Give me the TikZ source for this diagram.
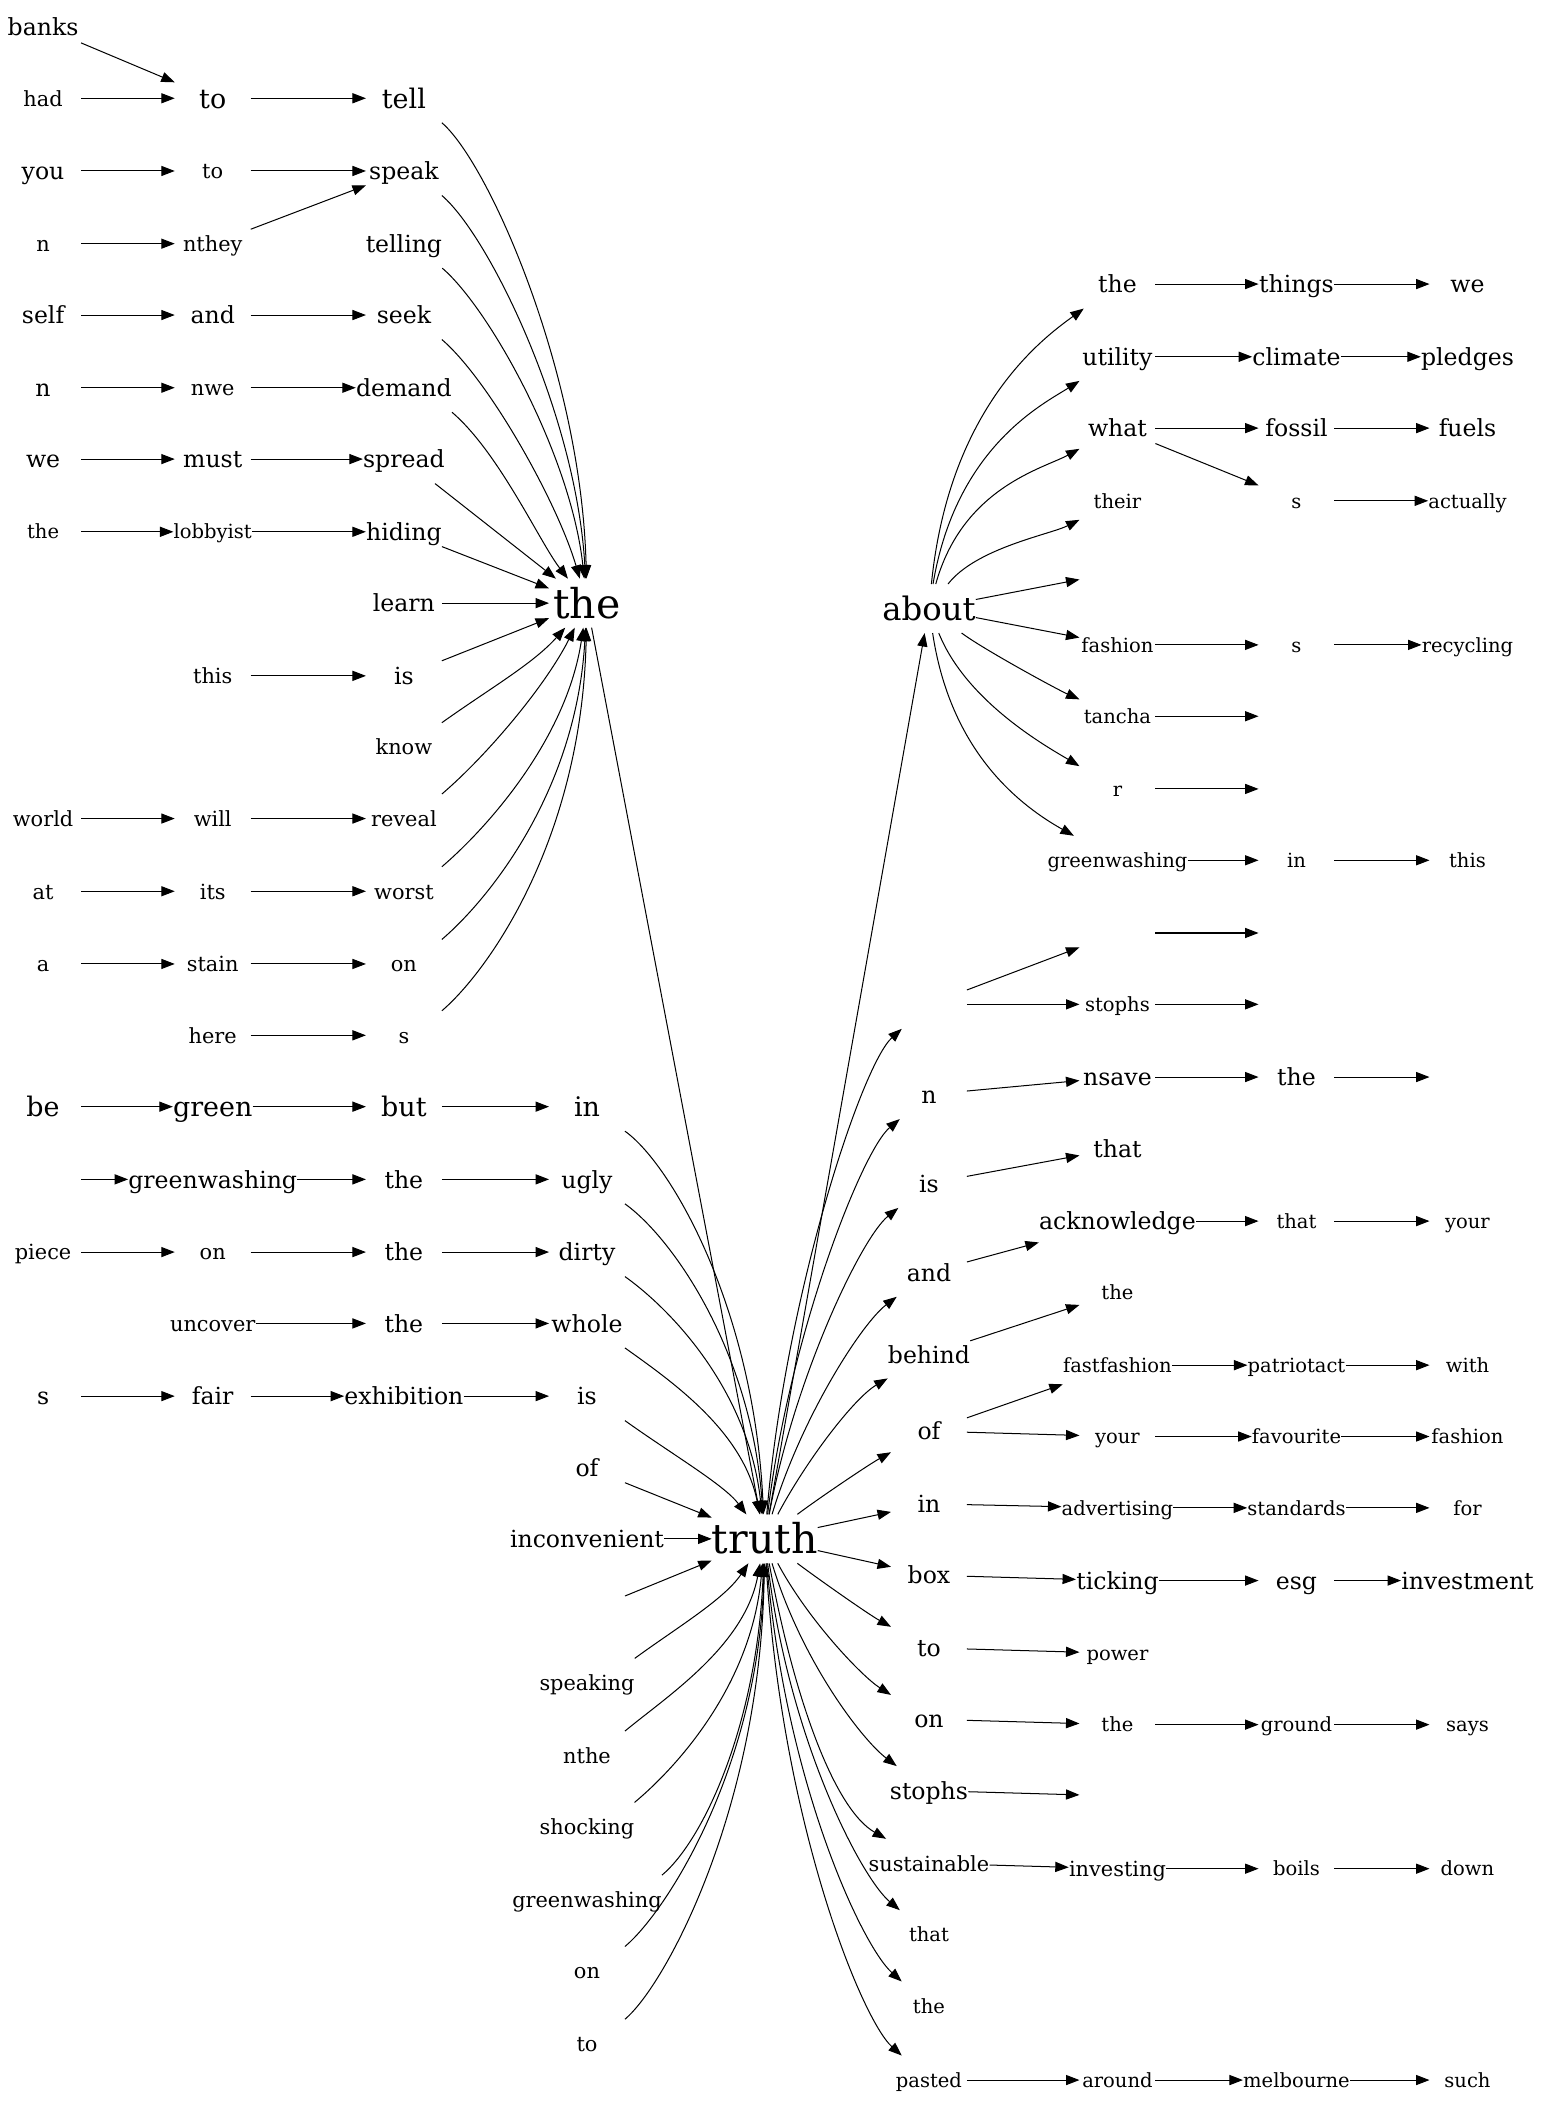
\documentclass[tikz,border=0pt]{standalone}
\usepackage{fontspec}
\setmainfont{DejaVu Serif}
\usetikzlibrary{arrows.meta}

\begin{document}
\begin{tikzpicture}[
  x=1pt, y=-1pt,
  word/.style={inner sep=0pt, minimum width=56pt, minimum height=36pt},
  xs/.style={word, font=\fontsize{14.5}{17}\selectfont, text height=12.3pt, text depth=1.6pt},
  sm/.style={word, font=\fontsize{15.5}{18}\selectfont, text height=13.2pt, text depth=1.7pt},
  md/.style={word, font=\fontsize{17.5}{20}\selectfont, text height=14.9pt, text depth=1.9pt},
  lg/.style={word, font=\fontsize{20}{23}\selectfont, text height=17pt, text depth=2.2pt},
  mid/.style={word, font=\fontsize{24}{28}\selectfont, text height=20.4pt, text depth=2.6pt},
  hub/.style={word, font=\fontsize{30.5}{34}\selectfont, text height=25.9pt, text depth=3.4pt},
  link/.style={-{Triangle[length=10pt,width=7.5pt]}, line width=0.75pt}
]
\path[use as bounding box, fill=white] (0,0) rectangle (1146,1568);

% HUBS
\node[hub] (the) at (436,448) {the};
\node[hub] (truth) at (568,1143) {truth};
\node[mid] (about) at (690,452) {about};

% INTO THE
\node[md] (banks) at (32,20) {banks};
\node[sm] (had) at (32,73) {had};
\node[lg] (toTell) at (158,73) {to};
\node[lg] (tell) at (300,73) {tell};
\node[md] (you) at (32,127) {you};
\node[sm] (toSpeak) at (158,127) {to};
\node[md] (speak) at (300,127) {speak};
\node[sm] (nThey) at (32,181) {n};
\node[sm] (nthey) at (158,181) {nthey};
\node[md] (telling) at (300,181) {telling};
\node[md] (self) at (32,234) {self};
\node[md] (andSeek) at (158,234) {and};
\node[md] (seek) at (300,234) {seek};
\node[md] (nWe) at (32,288) {n};
\node[sm] (nwe) at (158,288) {nwe};
\node[md] (demand) at (300,288) {demand};
\node[md] (weMust) at (32,341) {we};
\node[md] (must) at (158,341) {must};
\node[md] (spread) at (300,341) {spread};
\node[xs] (theLobby) at (32,395) {the};
\node[xs] (lobbyist) at (158,395) {lobbyist};
\node[md] (hiding) at (300,395) {hiding};
\node[md] (learn) at (300,448) {learn};
\node[sm] (this) at (158,502) {this};
\node[md] (isThe) at (300,502) {is};
\node[sm] (know) at (300,555) {know};
\node[sm] (world) at (32,608) {world};
\node[sm] (will) at (158,608) {will};
\node[sm] (reveal) at (300,608) {reveal};
\node[sm] (atIts) at (32,662) {at};
\node[sm] (its) at (158,662) {its};
\node[sm] (worst) at (300,662) {worst};
\node[sm] (aStain) at (32,716) {a};
\node[sm] (stain) at (158,716) {stain};
\node[sm] (onThe) at (300,716) {on};
\node[sm] (here) at (158,769) {here};
\node[sm] (sThe) at (300,769) {s};

\draw[link] (banks) -- (toTell);
\draw[link] (had) -- (toTell);   \draw[link] (toTell) -- (tell);
\draw[link] (you) -- (toSpeak);  \draw[link] (toSpeak) -- (speak);
\draw[link] (nThey) -- (nthey);  \draw[link] (nthey) -- (speak);
\draw[link] (self) -- (andSeek); \draw[link] (andSeek) -- (seek);
\draw[link] (nWe) -- (nwe);      \draw[link] (nwe) -- (demand);
\draw[link] (weMust) -- (must);  \draw[link] (must) -- (spread);
\draw[link] (theLobby) -- (lobbyist); \draw[link] (lobbyist) -- (hiding);
\draw[link] (this) -- (isThe);
\draw[link] (world) -- (will);   \draw[link] (will) -- (reveal);
\draw[link] (atIts) -- (its);    \draw[link] (its) -- (worst);
\draw[link] (aStain) -- (stain); \draw[link] (stain) -- (onThe);
\draw[link] (here) -- (sThe);

\draw[link] (tell.south east) .. controls +(35,30) and +(-4,-170) .. (the);
\draw[link] (speak.south east) .. controls +(35,30) and +(-8,-140) .. (the);
\draw[link] (telling.south east) .. controls +(35,30) and +(-12,-110) .. (the);
\draw[link] (seek.south east) .. controls +(35,30) and +(-22,-75) .. (the);
\draw[link] (demand.south east) .. controls +(35,30) and +(-35,-45) .. (the);
\draw[link] (spread) -- (the);
\draw[link] (hiding) -- (the);
\draw[link] (learn) -- (the);
\draw[link] (isThe) -- (the);
\draw[link] (know.north east) .. controls +(35,-25) and +(-40,45) .. (the);
\draw[link] (reveal.north east) .. controls +(35,-30) and +(-30,60) .. (the);
\draw[link] (worst.north east) .. controls +(35,-30) and +(-15,100) .. (the);
\draw[link] (onThe.north east) .. controls +(35,-30) and +(-8,140) .. (the);
\draw[link] (sThe.north east) .. controls +(35,-30) and +(-4,175) .. (the);

\draw[link] (the) -- (truth);

% INTO TRUTH
\node[lg] (be) at (32,822) {be};
\node[lg] (green) at (158,822) {green};
\node[lg] (but) at (300,822) {but};
\node[lg] (inTruth) at (436,822) {in};
\node[md] (blankA) at (32,876) {};
\node[md] (gwUgly) at (158,876) {greenwashing};
\node[md] (theUgly) at (300,876) {the};
\node[md] (ugly) at (436,876) {ugly};
\node[sm] (piece) at (32,930) {piece};
\node[sm] (onDirty) at (158,930) {on};
\node[md] (theDirty) at (300,930) {the};
\node[md] (dirty) at (436,930) {dirty};
\node[sm] (uncover) at (158,983) {uncover};
\node[md] (theWhole) at (300,983) {the};
\node[md] (whole) at (436,983) {whole};
\node[md] (sFair) at (32,1037) {s};
\node[md] (fair) at (158,1037) {fair};
\node[md] (exhibition) at (300,1037) {exhibition};
\node[md] (isTruth) at (436,1037) {is};
\node[md] (ofTruth) at (436,1090) {of};
\node[md] (inconvenient) at (436,1143) {inconvenient};
\node[md] (blankB) at (436,1197) {};
\node[sm] (speaking) at (436,1250) {speaking};
\node[sm] (nthe) at (436,1304) {nthe};
\node[sm] (shocking) at (436,1357) {shocking};
\node[sm] (gwTruth) at (436,1411) {greenwashing};
\node[sm] (onTruth) at (436,1464) {on};
\node[sm] (toTruth) at (436,1518) {to};

\draw[link] (be) -- (green);  \draw[link] (green) -- (but);  \draw[link] (but) -- (inTruth);
\draw[link] (blankA) -- (gwUgly); \draw[link] (gwUgly) -- (theUgly); \draw[link] (theUgly) -- (ugly);
\draw[link] (piece) -- (onDirty); \draw[link] (onDirty) -- (theDirty); \draw[link] (theDirty) -- (dirty);
\draw[link] (uncover) -- (theWhole); \draw[link] (theWhole) -- (whole);
\draw[link] (sFair) -- (fair); \draw[link] (fair) -- (exhibition); \draw[link] (exhibition) -- (isTruth);

\draw[link] (inTruth.south east) .. controls +(35,25) and +(-8,-170) .. (truth);
\draw[link] (ugly.south east) .. controls +(35,25) and +(-10,-140) .. (truth);
\draw[link] (dirty.south east) .. controls +(35,25) and +(-12,-110) .. (truth);
\draw[link] (whole.south east) .. controls +(35,25) and +(-16,-80) .. (truth);
\draw[link] (isTruth.south east) .. controls +(35,25) and +(-30,-40) .. (truth);
\draw[link] (ofTruth) -- (truth);
\draw[link] (inconvenient) -- (truth);
\draw[link] (blankB) -- (truth);
\draw[link] (speaking.north east) .. controls +(30,-22) and +(-30,45) .. (truth);
\draw[link] (nthe.north east) .. controls +(30,-25) and +(-15,80) .. (truth);
\draw[link] (shocking.north east) .. controls +(30,-25) and +(-10,110) .. (truth);
\draw[link] (gwTruth.north east) .. controls +(30,-25) and +(-6,140) .. (truth);
\draw[link] (onTruth.north east) .. controls +(30,-25) and +(-4,170) .. (truth);
\draw[link] (toTruth.north east) .. controls +(30,-25) and +(-3,200) .. (truth);

% OUT OF ABOUT
\node[md] (theThings) at (830,211) {the};
\node[md] (things) at (963,211) {things};
\node[md] (weThings) at (1090,211) {we};
\node[md] (utility) at (830,265) {utility};
\node[md] (climate) at (963,265) {climate};
\node[md] (pledges) at (1090,265) {pledges};
\node[md] (what) at (830,318) {what};
\node[md] (fossil) at (963,318) {fossil};
\node[md] (fuels) at (1090,318) {fuels};
\node[xs] (their) at (830,372) {their};
\node[xs] (sActually) at (963,372) {s};
\node[xs] (actually) at (1090,372) {actually};
\node[xs] (blankC) at (830,425) {};
\node[xs] (fashionS) at (830,479) {fashion};
\node[xs] (sRecycling) at (963,479) {s};
\node[xs] (recycling) at (1090,479) {recycling};
\node[xs] (tancha) at (830,532) {tancha};
\node[xs] (blankD) at (963,532) {};
\node[xs] (rBlank) at (830,586) {r};
\node[xs] (blankE) at (963,586) {};
\node[xs] (gwIn) at (830,639) {greenwashing};
\node[xs] (inThis) at (963,639) {in};
\node[xs] (thisEnd) at (1090,639) {this};

\draw[link] (about) .. controls +(15,-150) and +(-55,40) .. (theThings);
\draw[link] (about) .. controls +(20,-120) and +(-55,35) .. (utility);
\draw[link] (about) .. controls +(25,-90) and +(-55,30) .. (what);
\draw[link] (about) .. controls +(35,-45) and +(-50,25) .. (their);
\draw[link] (about) -- (blankC);
\draw[link] (about) -- (fashionS);
\draw[link] (about) .. controls +(40,30) and +(-45,-20) .. (tancha);
\draw[link] (about) .. controls +(28,70) and +(-50,-30) .. (rBlank);
\draw[link] (about) .. controls +(15,100) and +(-80,-45) .. (gwIn);

\draw[link] (theThings) -- (things); \draw[link] (things) -- (weThings);
\draw[link] (utility) -- (climate);  \draw[link] (climate) -- (pledges);
\draw[link] (what) -- (fossil);      \draw[link] (fossil) -- (fuels);
\draw[link] (what) -- (sActually);   \draw[link] (sActually) -- (actually);
\draw[link] (fashionS) -- (sRecycling); \draw[link] (sRecycling) -- (recycling);
\draw[link] (tancha) -- (blankD);
\draw[link] (rBlank) -- (blankE);
\draw[link] (gwIn) -- (inThis);      \draw[link] (inThis) -- (thisEnd);

% OUT OF TRUTH
\node[xs] (blankF) at (690,746) {};
\node[xs] (blankG) at (830,693) {};
\node[xs] (blankH) at (963,693) {};
\node[xs] (stophsA) at (830,746) {stophs};
\node[xs] (blankI) at (963,746) {};
\node[md] (nSave) at (690,813) {n};
\node[md] (nsave) at (830,800) {nsave};
\node[md] (theSave) at (963,800) {the};
\node[md] (blankJ) at (1090,800) {};
\node[md] (isThat) at (690,879) {is};
\node[md] (thatIs) at (830,853) {that};
\node[md] (andAck) at (690,945) {and};
\node[md] (acknowledge) at (830,907) {acknowledge};
\node[xs] (thatYour) at (963,907) {that};
\node[xs] (yourEnd) at (1090,907) {your};
\node[md] (behind) at (690,1006) {behind};
\node[xs] (theBehind) at (830,960) {the};
\node[md] (ofFast) at (690,1063) {of};
\node[xs] (fastfashion) at (830,1014) {fastfashion};
\node[xs] (patriotact) at (963,1014) {patriotact};
\node[xs] (with) at (1090,1014) {with};
\node[xs] (yourFav) at (830,1067) {your};
\node[xs] (favourite) at (963,1067) {favourite};
\node[xs] (fashionEnd) at (1090,1067) {fashion};
\node[md] (inAdv) at (690,1117) {in};
\node[xs] (advertising) at (830,1120) {advertising};
\node[xs] (standards) at (963,1120) {standards};
\node[xs] (forEnd) at (1090,1120) {for};
\node[md] (box) at (690,1170) {box};
\node[md] (ticking) at (830,1174) {ticking};
\node[md] (esg) at (963,1174) {esg};
\node[md] (investment) at (1090,1174) {investment};
\node[md] (toPower) at (690,1224) {to};
\node[xs] (power) at (830,1228) {power};
\node[md] (onGround) at (690,1277) {on};
\node[xs] (theGround) at (830,1281) {the};
\node[xs] (ground) at (963,1281) {ground};
\node[xs] (says) at (1090,1281) {says};
\node[md] (stophsB) at (690,1330) {stophs};
\node[xs] (blankK) at (830,1334) {};
\node[sm] (sustainable) at (690,1384) {sustainable};
\node[sm] (investing) at (830,1388) {investing};
\node[xs] (boils) at (963,1388) {boils};
\node[xs] (down) at (1090,1388) {down};
\node[xs] (thatEnd) at (690,1437) {that};
\node[xs] (theEnd) at (690,1490) {the};
\node[xs] (pasted) at (690,1545) {pasted};
\node[xs] (around) at (830,1545) {around};
\node[xs] (melbourne) at (963,1545) {melbourne};
\node[xs] (such) at (1090,1545) {such};

\draw[link] (truth) -- (about);
\draw[link] (truth) .. controls +(15,-180) and +(-50,45) .. (blankF);
\draw[link] (truth) .. controls +(18,-150) and +(-50,42) .. (nSave);
\draw[link] (truth) .. controls +(22,-120) and +(-50,40) .. (isThat);
\draw[link] (truth) .. controls +(27,-90) and +(-50,38) .. (andAck);
\draw[link] (truth) .. controls +(32,-60) and +(-55,32) .. (behind);
\draw[link] (truth) .. controls +(40,-30) and +(-45,25) .. (ofFast);
\draw[link] (truth) -- (inAdv);
\draw[link] (truth) -- (box);
\draw[link] (truth) .. controls +(40,30) and +(-45,-25) .. (toPower);
\draw[link] (truth) .. controls +(32,60) and +(-50,-32) .. (onGround);
\draw[link] (truth) .. controls +(27,90) and +(-50,-38) .. (stophsB);
\draw[link] (truth) .. controls +(22,120) and +(-70,-40) .. (sustainable);
\draw[link] (truth) .. controls +(18,150) and +(-50,-42) .. (thatEnd);
\draw[link] (truth) .. controls +(15,180) and +(-50,-45) .. (theEnd);
\draw[link] (truth) .. controls +(12,210) and +(-50,-45) .. (pasted);

\draw[link] (blankF) -- (blankG);    \draw[link] (blankG) -- (blankH);
\draw[link] (blankF) -- (stophsA);   \draw[link] (stophsA) -- (blankI);
\draw[link] (nSave) -- (nsave);      \draw[link] (nsave) -- (theSave);  \draw[link] (theSave) -- (blankJ);
\draw[link] (isThat) -- (thatIs);
\draw[link] (andAck) -- (acknowledge); \draw[link] (acknowledge) -- (thatYour); \draw[link] (thatYour) -- (yourEnd);
\draw[link] (behind) -- (theBehind);
\draw[link] (ofFast) -- (fastfashion); \draw[link] (fastfashion) -- (patriotact); \draw[link] (patriotact) -- (with);
\draw[link] (ofFast) -- (yourFav);   \draw[link] (yourFav) -- (favourite); \draw[link] (favourite) -- (fashionEnd);
\draw[link] (inAdv) -- (advertising); \draw[link] (advertising) -- (standards); \draw[link] (standards) -- (forEnd);
\draw[link] (box) -- (ticking);      \draw[link] (ticking) -- (esg);   \draw[link] (esg) -- (investment);
\draw[link] (toPower) -- (power);
\draw[link] (onGround) -- (theGround); \draw[link] (theGround) -- (ground); \draw[link] (ground) -- (says);
\draw[link] (stophsB) -- (blankK);
\draw[link] (sustainable) -- (investing); \draw[link] (investing) -- (boils); \draw[link] (boils) -- (down);
\draw[link] (pasted) -- (around);    \draw[link] (around) -- (melbourne); \draw[link] (melbourne) -- (such);

\end{tikzpicture}
\end{document}
